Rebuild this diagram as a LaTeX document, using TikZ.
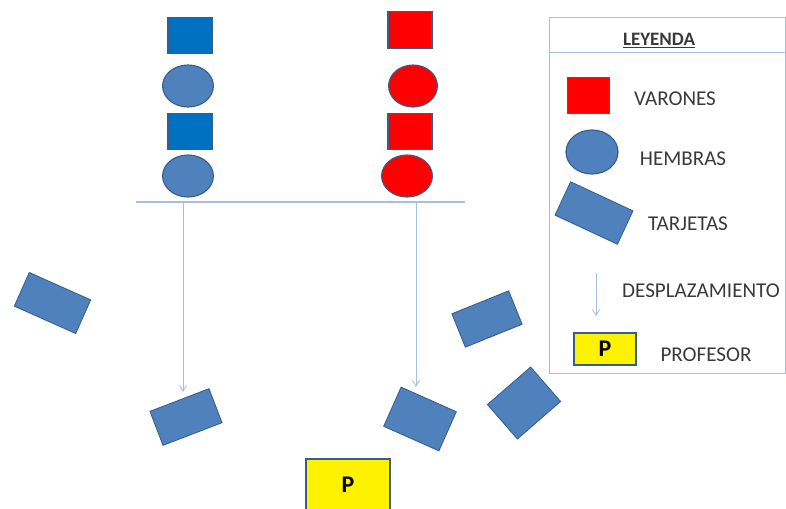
\documentclass[tikz,border=0pt]{standalone}
\usepackage{fontspec}
\setmainfont{Carlito}
\usetikzlibrary{shapes.geometric,arrows.meta}
\definecolor{azul}{HTML}{0070C0}
\definecolor{azulc}{HTML}{4F81BD}
\definecolor{borde}{HTML}{385D8A}
\definecolor{linea}{HTML}{A7BFDE}
\definecolor{texto}{HTML}{3A3A3A}

\begin{document}
\begin{tikzpicture}[x=0.025cm,y=-0.025cm,every node/.style={font=\fontsize{15}{17}\selectfont,text=texto},
  sq/.style={draw=borde,line width=0.8pt,fill=#1,minimum width=1.1cm,minimum height=0.92cm,inner sep=0pt},
  hm/.style={ellipse,draw=borde,line width=0.8pt,fill=#1,minimum width=1.27cm,minimum height=1.05cm,inner sep=0pt},
  tarj/.style={draw=borde,line width=0.6pt,fill=azulc,inner sep=0pt},
  profe/.style={draw=borde,line width=1pt,fill=yellow,inner sep=0pt,text=black,font=\fontsize{17}{18}\selectfont\bfseries},
  mov/.style={-{Straight Barb[length=4pt,width=5pt]},draw=linea,line width=0.6pt}]
\useasboundingbox (0,0) rectangle (786,508);
% filas de alumnos
\node[sq=azul] (v1) at (190,35.5) {};
\node[hm=azulc] (h1) at (188,86) {};
\node[sq=azul] (v2) at (190,131.5) {};
\node[hm=azulc] (h2) at (188,176) {};
\node[sq=red] (v3) at (410,30) {};
\node[hm=red,minimum width=1.22cm] (h3) at (413,86) {};
\node[sq=red] (v4) at (410,131.5) {};
\node[hm=red] (h4) at (407,176) {};
\coordinate (ia) at (136,202);\coordinate (fa) at (465,202);
\draw[linea,line width=0.8pt] (ia)--(fa);
% tarjetas
\node[tarj,minimum width=1.68cm,minimum height=0.92cm,rotate=-24] (t1) at (52.5,303) {};
\node[tarj,minimum width=1.58cm,minimum height=0.91cm,rotate=21] (t2) at (186,417) {};
\node[tarj,minimum width=1.51cm,minimum height=1.07cm,rotate=-24] (t3) at (420,419) {};
\node[tarj,minimum width=1.53cm,minimum height=0.9cm,rotate=22] (t4) at (487,319) {};
\node[tarj,minimum width=1.43cm,minimum height=1.14cm,rotate=41] (t5) at (524,403) {};
\coordinate (sa) at (183,202);\coordinate (ea) at (183,392);
\coordinate (sb) at (416,202);\coordinate (eb) at (416,387);
\draw[mov] (sa)--(ea);\draw[mov] (sb)--(eb);
\node[profe,minimum width=2.1cm,minimum height=1.3cm] (p) at (348,485) {P};
% leyenda
\node[draw=linea,line width=0.6pt,minimum width=5.9cm,minimum height=8.9cm,inner sep=0pt] (ley) at (667,195) {};
\coordinate (ha) at (ley.west|-0,52);\coordinate (hb) at (ley.east|-0,52);
\draw[linea,line width=0.6pt] (ha)--(hb);
\node[font=\fontsize{13.5}{15}\selectfont\bfseries] (tit) at (659,41) {\underline{LEYENDA}};
\node[sq=red,minimum width=1.07cm,minimum height=0.92cm] (lv) at (588.5,95.5) {};
\node (tv) at (675,99) {VARONES};
\node[hm=azulc,minimum width=1.3cm,minimum height=1.1cm] (lh) at (592,152) {};
\node (th) at (683,159) {HEMBRAS};
\node[tarj,minimum width=1.72cm,minimum height=0.92cm,rotate=-25] (lt) at (594,213) {};
\node (tt) at (688,224) {TARJETAS};
\coordinate (da) at (596,273);\coordinate (db) at (596,316);
\draw[mov] (da)--(db);
\node (td) at (701,291) {DESPLAZAMIENTO};
\node[profe,minimum width=1.55cm,minimum height=0.8cm] (lp) at (605,349) {P};
\node (tp) at (706,355) {PROFESOR};
\end{tikzpicture}
\end{document}
